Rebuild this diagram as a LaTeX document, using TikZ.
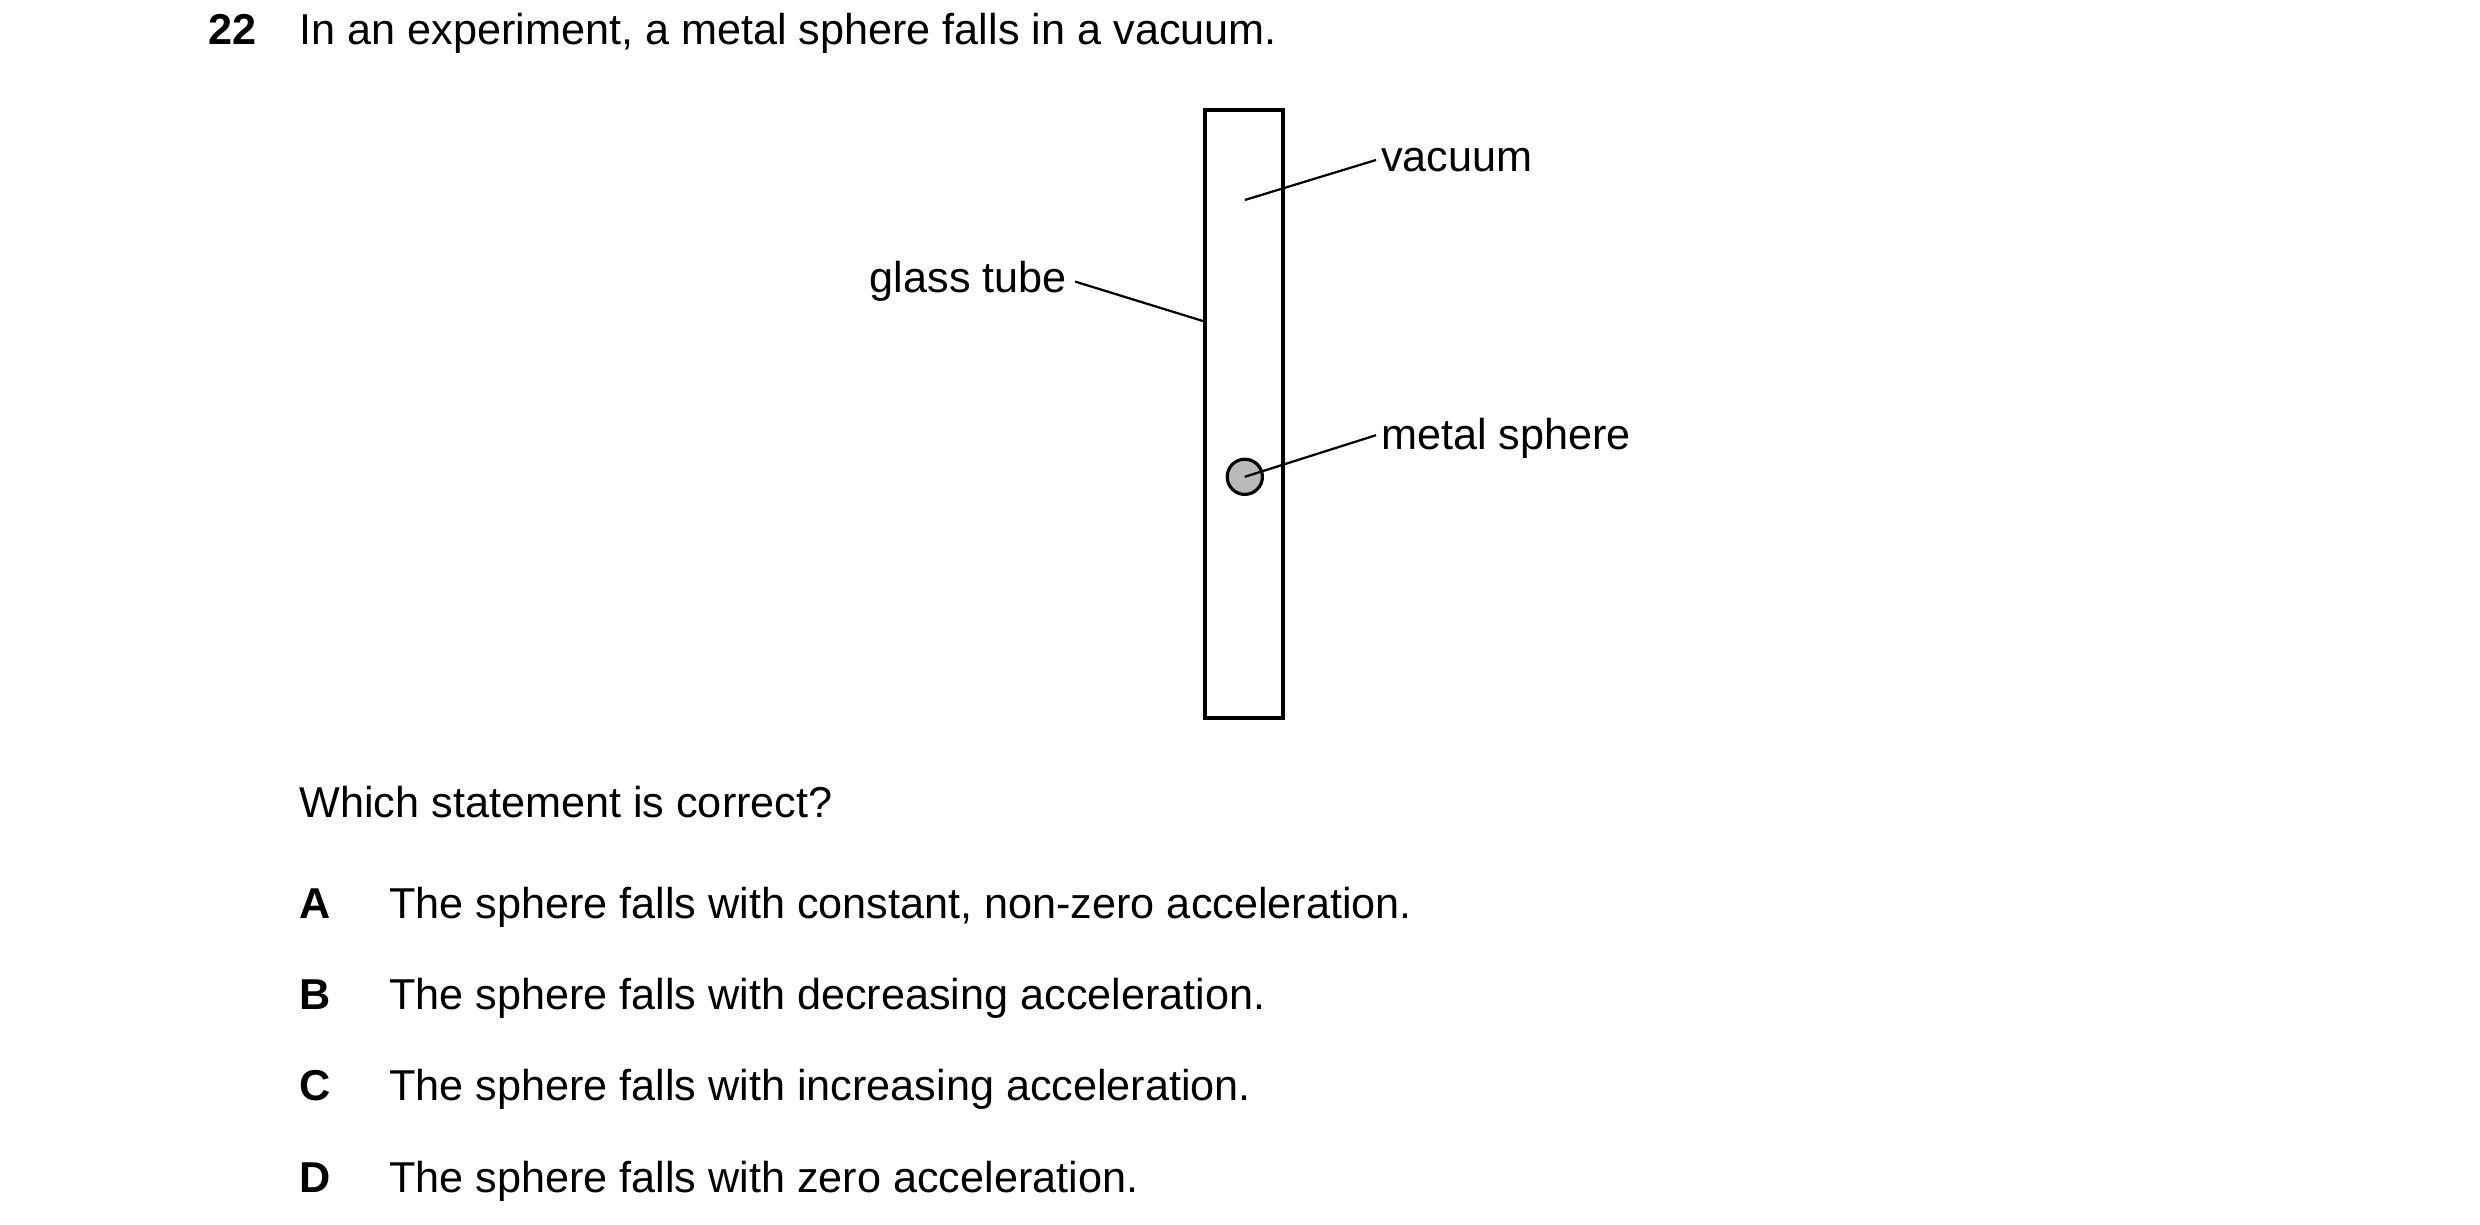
\documentclass[tikz,border=0pt]{standalone}
\usepackage{fontspec}
\setmainfont{Liberation Sans}
\begin{document}
\begin{tikzpicture}[x=1pt,y=-1pt,
  txt/.style={inner sep=0pt,anchor=base west,font=\fontsize{27}{30}\selectfont},
  lbl/.style={txt,font=\fontsize{27}{30}\selectfont\bfseries},
  lead/.style={line width=1.4pt},
  thick/.style={line width=2.4pt}]
\useasboundingbox (0,0) rectangle (1550,765.6);
\node[lbl] (num) at (130,28) {22};
\node[txt] (q) at (187,28) {In an experiment, a metal sphere falls in a vacuum.};
\node[draw,thick,minimum width=49pt,minimum height=380pt,inner sep=0pt] (tube) at (777.5,259) {};
\node[draw,line width=2pt,fill=gray!55,circle,minimum size=22pt,inner sep=0pt] (sph) at (778,298) {};
\node[txt] (vac) at (863,107) {vacuum};
\node[txt,anchor=base east] (gt) at (667,183) {glass tube};
\node[txt] (ms) at (863,281) {metal sphere};
\coordinate (v1) at (778,125);
\coordinate (v2) at (860,100);
\draw[lead] (v1) -- (v2);
\coordinate (g1) at (672,176);
\coordinate (g2) at (753,201);
\draw[lead] (g1) -- (g2);
\coordinate (m2) at (860,272);
\draw[lead] (sph.center) -- (m2);
\node[txt] (w) at (187,511) {Which statement is correct?};
\node[lbl] (A) at (187,574) {A};
\node[txt] (tA) at (243,574) {The sphere falls with constant, non-zero acceleration.};
\node[lbl] (B) at (187,631) {B};
\node[txt] (tB) at (243,631) {The sphere falls with decreasing acceleration.};
\node[lbl] (C) at (187,688) {C};
\node[txt] (tC) at (243,688) {The sphere falls with increasing acceleration.};
\node[lbl] (D) at (187,745) {D};
\node[txt] (tD) at (243,745) {The sphere falls with zero acceleration.};
\end{tikzpicture}
\end{document}
